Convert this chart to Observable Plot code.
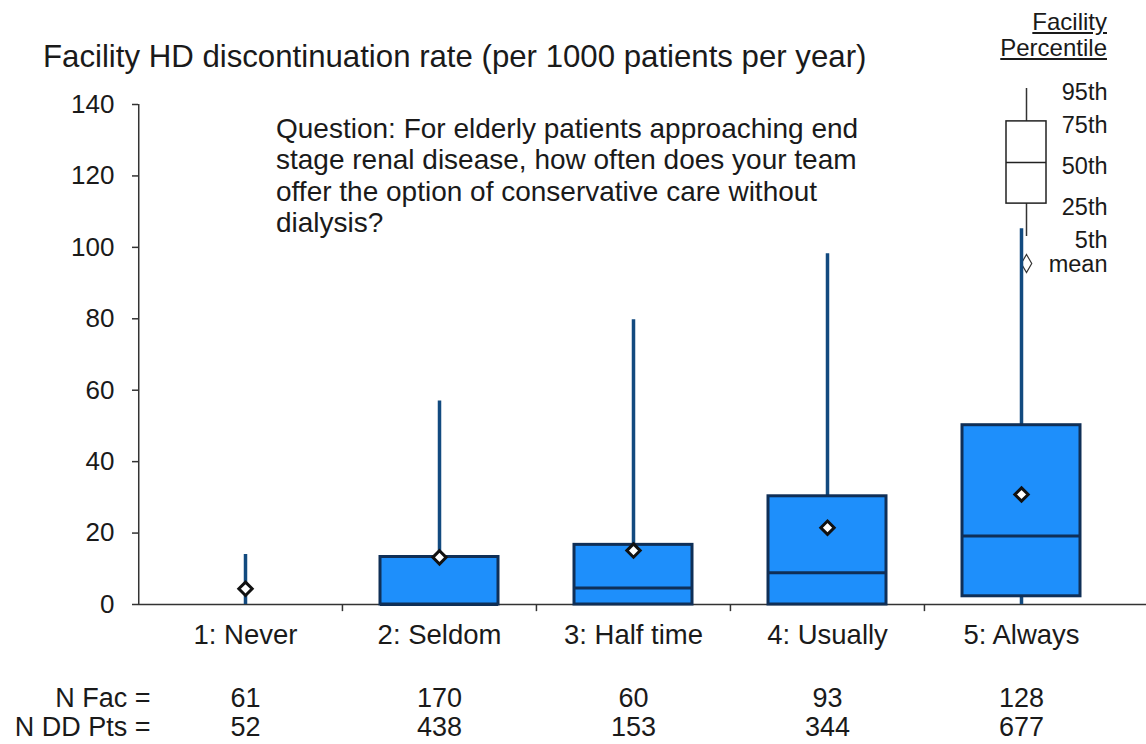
<!DOCTYPE html>
<html><head><meta charset="utf-8">
<script src="https://cdn.jsdelivr.net/npm/d3@7"></script>
<script src="https://cdn.jsdelivr.net/npm/@observablehq/plot@0.6"></script>
<style>
body{margin:0;background:#fff;}
#wrap{position:relative;width:1146px;height:744px;font-family:"Liberation Sans",Arial,sans-serif;color:#1a1a1a;overflow:hidden;background:#fff;}
.abs{position:absolute;}
#title{left:43px;top:41px;font-size:31.2px;line-height:31px;white-space:nowrap;}
#question{left:276px;top:113px;font-size:28px;line-height:31.3px;white-space:nowrap;}
#lhead{right:39px;top:9px;font-size:24px;line-height:26px;text-align:right;text-decoration:underline;white-space:nowrap;}
</style></head><body>
<div id="wrap">
  <div id="legend" class="abs" style="left:990px;top:0"></div>
  <div id="chart" class="abs" style="left:0;top:0"></div>
  <div id="title" class="abs"></div>
  <div id="question" class="abs"></div>
  <div id="lhead" class="abs"></div>
</div>
<script>
// ---- data ----
const titleText = "Facility HD discontinuation rate (per 1000 patients per year)";
const questionLines = [
  "Question: For elderly patients approaching end",
  "stage renal disease, how often does your team",
  "offer the option of conservative care without",
  "dialysis?"
];
const categories = ["1: Never", "2: Seldom", "3: Half time", "4: Usually", "5: Always"];
const p5   = [0, 0, 0, 0, 0];
const p25  = [0, 0, 0, 0, 2.3];
const p50  = [0, 0, 4.6, 8.9, 19.2];
const p75  = [0, 13.3, 16.7, 30.3, 50.2];
const p95  = [14, 57, 79.7, 98.2, 105.2];
const mean = [4.4, 13.2, 15.1, 21.5, 30.8];
const nFac = [61, 170, 60, 93, 128];
const nPts = [52, 438, 153, 344, 677];
const rowLabels = ["N Fac =", "N DD Pts ="];
const yTicks = [0, 20, 40, 60, 80, 100, 120, 140];
const legendHeader = ["Facility", "Percentile"];
const legendLevels = ["95th", "75th", "50th", "25th", "5th"];
const legendValues = [95, 75, 50, 25, 5];
const legendMeanLabel = "mean";

// ---- build ----
document.getElementById("title").textContent = titleText;
document.getElementById("question").innerHTML = questionLines.join("<br>");
document.getElementById("lhead").innerHTML = legendHeader.join("<br>");

const rows = categories.map((c, i) => ({cat: c, p5: p5[i], p25: p25[i], p50: p50[i], p75: p75[i], p95: p95[i], mean: mean[i], nFac: nFac[i], nPts: nPts[i]}));
const boxes = rows.filter(d => d.p75 > d.p25);

const FONT = '"Liberation Sans", Arial, sans-serif';
const FILL = "#1e8ffb", EDGE = "#0f2f57", WHISK = "#124a7f", AX = "#333";
const X0 = 138, X1 = 1128, PAD = 0.05;
const step = (X1 - X0) / (categories.length + 2 * PAD);
const firstCenter = step * (PAD + 0.5);
const inset = 38;
const fs = 27;

const chart = Plot.plot({
  width: 1146, height: 744,
  marginTop: 104, marginBottom: 140, marginLeft: 138, marginRight: 0,
  style: {background: "transparent", fontFamily: FONT, color: "#1a1a1a", overflow: "visible"},
  x: {domain: categories, range: [X0, X1], paddingInner: 0, paddingOuter: PAD, label: null},
  y: {domain: [0, 140], label: null},
  marks: [
    Plot.axisY({ticks: yTicks, tickSize: 6, tickPadding: 18, fontSize: 26, label: null, stroke: AX, strokeWidth: 1.5}),
    Plot.axisX({tickSize: 0, tickPadding: 20, fontSize: 27.5, label: null}),
    Plot.ruleY([0], {stroke: AX, strokeWidth: 1.5}),
    Plot.ruleX([categories[0]], {dx: -firstCenter, y1: 0, y2: 140, stroke: AX, strokeWidth: 1.5}),
    Plot.ruleX(categories.slice(1), {dx: -step / 2, y1: 0, y2: -2, stroke: AX, strokeWidth: 1.5}),
    Plot.ruleX(rows, {x: "cat", y1: "p5", y2: "p95", stroke: WHISK, strokeWidth: 3.5}),
    Plot.barY(boxes, {x: "cat", y1: "p25", y2: "p75", fill: FILL, stroke: EDGE, strokeWidth: 3, insetLeft: inset, insetRight: inset}),
    Plot.tickY(boxes, {x: "cat", y: "p50", stroke: EDGE, strokeWidth: 3, insetLeft: inset, insetRight: inset}),
    Plot.dot(rows, {x: "cat", y: "mean", symbol: "diamond2", r: 6, fill: "white", stroke: "#111", strokeWidth: 3}),
    Plot.text(rows, {x: "cat", text: d => String(d.nFac), frameAnchor: "bottom", lineAnchor: "middle", dy: 94, fontSize: fs}),
    Plot.text(rows, {x: "cat", text: d => String(d.nPts), frameAnchor: "bottom", lineAnchor: "middle", dy: 123, fontSize: fs}),
    Plot.text([rowLabels[0]], {text: d => d, frameAnchor: "bottom-left", lineAnchor: "middle", dx: 12, dy: 94, textAnchor: "end", fontSize: fs}),
    Plot.text([rowLabels[1]], {text: d => d, frameAnchor: "bottom-left", lineAnchor: "middle", dx: 12, dy: 123, textAnchor: "end", fontSize: fs})
  ]
});
document.getElementById("chart").appendChild(chart);

const legendBox = {p5: 5, p25: 25, p50: 50, p75: 75, p95: 95};
const legend = Plot.plot({
  width: 156, height: 290,
  marginTop: 0, marginBottom: 0, marginLeft: 0, marginRight: 39,
  style: {background: "transparent", fontFamily: FONT, color: "#1a1a1a", overflow: "visible"},
  x: {domain: ["box"], range: [16, 56], padding: 0, axis: null},
  y: {domain: [5, 95], range: [236, 88], axis: null},
  marks: [
    Plot.ruleX([legendBox], {x: () => "box", y1: "p5", y2: "p95", stroke: "#333", strokeWidth: 1.5}),
    Plot.barY([legendBox], {x: () => "box", y1: "p25", y2: "p75", fill: "white", stroke: "#222", strokeWidth: 1.5}),
    Plot.tickY([legendBox], {x: () => "box", y: "p50", stroke: "#222", strokeWidth: 1.5}),
    Plot.text(legendLevels, {y: (d, i) => legendValues[i], text: d => d, frameAnchor: "right", textAnchor: "end", dy: 4, fontSize: 23.5}),
    Plot.dot([legendMeanLabel], {x: () => "box", y: () => 5, dy: 27, symbol: "diamond", r: 5.5, fill: "none", stroke: "#333", strokeWidth: 1.2}),
    Plot.text([legendMeanLabel], {y: () => 5, text: d => d, dy: 28, frameAnchor: "right", textAnchor: "end", fontSize: 23.5})
  ]
});
document.getElementById("legend").appendChild(legend);
</script>
</body></html>
